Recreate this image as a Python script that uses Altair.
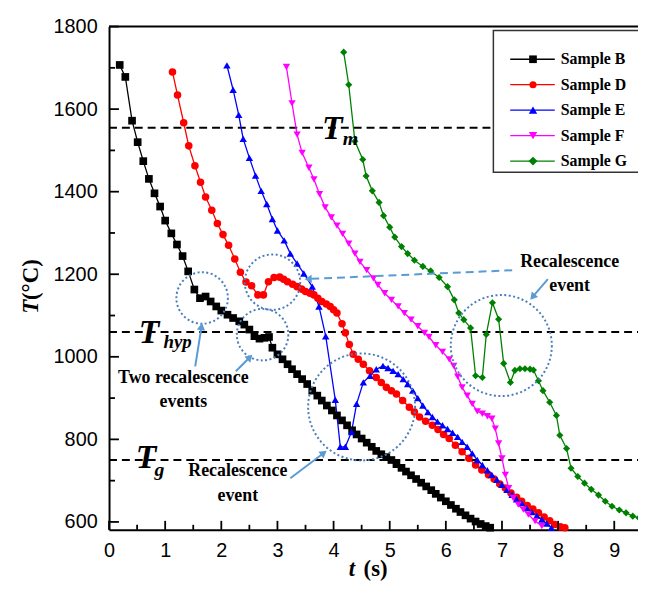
import math
import pandas as pd
import altair as alt

# ---------------- data ----------------
samples = ["Sample B", "Sample D", "Sample E", "Sample F", "Sample G"]
colors = ["#000000", "#ff0000", "#0000ff", "#ff00ff", "#008000"]
shapes = ["square", "circle", "triangle-up", "triangle-down", "diamond"]
sizes = [60, 52, 72, 72, 80]

B_t = [0.19, 0.29, 0.41, 0.51, 0.61, 0.71, 0.81, 0.91, 1.00, 1.11, 1.21, 1.31, 1.41, 1.52,
       1.62, 1.72, 1.81, 1.91, 2.00, 2.11, 2.21, 2.32, 2.41, 2.50, 2.59, 2.68, 2.77, 2.85,
       2.91, 3.00, 3.09, 3.18, 3.26, 3.35, 3.44, 3.53, 3.62, 3.71, 3.79, 3.88, 3.97, 4.06,
       4.15, 4.24, 4.33, 4.41, 4.50, 4.59, 4.68, 4.76, 4.85, 4.94, 5.03, 5.12, 5.21, 5.29,
       5.38, 5.47, 5.56, 5.65, 5.74, 5.82, 5.91, 6.00, 6.09, 6.18, 6.26, 6.35, 6.44, 6.53,
       6.62, 6.71, 6.79]
B_T = [1707, 1678, 1572, 1520, 1474, 1431, 1396, 1364, 1330, 1299, 1272, 1244, 1207, 1163,
       1142, 1146, 1134, 1122, 1112, 1102, 1094, 1086, 1078, 1066, 1050, 1044, 1046, 1048,
       1022, 1006, 994, 982, 970, 958, 946, 934, 918, 906, 894, 882, 870, 858,
       846, 834, 822, 812, 802, 792, 782, 772, 764, 757, 750, 740, 731, 722,
       713, 704, 695, 686, 677, 668, 659, 650, 641, 632, 624, 616, 608, 601,
       595, 590, 586]

D_t = [1.13, 1.22, 1.33, 1.42, 1.53, 1.63, 1.72, 1.83, 1.93, 2.03, 2.13, 2.24, 2.34, 2.44,
       2.54, 2.65, 2.75, 2.84, 2.94, 3.04, 3.11, 3.18, 3.27, 3.35, 3.43, 3.50, 3.58, 3.65,
       3.72, 3.79, 3.87, 3.94, 4.00, 4.06, 4.15, 4.21, 4.28, 4.35, 4.44, 4.53, 4.64, 4.76,
       4.85, 4.94, 5.03, 5.12, 5.23, 5.35, 5.44, 5.53, 5.64, 5.76, 5.86, 5.96, 6.06, 6.17,
       6.29, 6.41, 6.53, 6.64, 6.76, 6.86, 6.96, 7.06, 7.16, 7.26, 7.35, 7.45, 7.55, 7.65,
       7.75, 7.85, 7.94, 8.04, 8.12]
D_T = [1690, 1634, 1567, 1511, 1463, 1423, 1387, 1355, 1323, 1296, 1270, 1237, 1205, 1181,
       1172, 1150, 1150, 1182, 1192, 1193, 1188, 1182, 1176, 1170, 1164, 1158, 1154, 1150,
       1142, 1134, 1128, 1122, 1114, 1106, 1080, 1058, 1030, 1006, 994, 982, 966, 950,
       938, 926, 918, 910, 894, 878, 866, 854, 844, 834, 824, 812, 802, 786,
       770, 754, 738, 726, 714, 704, 692, 682, 670, 660, 650, 640, 631, 622,
       612, 603, 594, 588, 586]

E_t = [2.10, 2.21, 2.31, 2.39, 2.50, 2.61, 2.71, 2.81, 2.91, 3.00, 3.12, 3.23, 3.35, 3.47,
       3.62, 3.74, 3.86, 4.03, 4.12, 4.21, 4.32, 4.41, 4.53, 4.65, 4.76, 4.88, 4.97, 5.06,
       5.15, 5.24, 5.32, 5.41, 5.50, 5.59, 5.68, 5.76, 5.85, 5.94, 6.03, 6.12, 6.21, 6.29,
       6.38, 6.47, 6.56, 6.65, 6.74, 6.82, 6.91, 7.00, 7.09, 7.18, 7.26, 7.35, 7.44, 7.53,
       7.62, 7.71, 7.80, 7.88]
E_T = [1706, 1647, 1586, 1528, 1482, 1439, 1402, 1370, 1334, 1306, 1282, 1250, 1226, 1202,
       1170, 1122, 1050, 896, 782, 782, 818, 886, 938, 954, 970, 978, 973, 966,
       958, 946, 934, 918, 900, 882, 866, 854, 843, 834, 825, 816, 806, 794,
       782, 766, 750, 738, 725, 714, 702, 690, 678, 666, 655, 646, 634, 624,
       615, 606, 596, 586]

F_t = [3.16, 3.26, 3.35, 3.44, 3.56, 3.65, 3.75, 3.85, 3.96, 4.06, 4.16, 4.27, 4.38, 4.47,
       4.59, 4.71, 4.79, 4.91, 5.03, 5.15, 5.26, 5.38, 5.50, 5.62, 5.70, 5.82, 5.94, 6.06,
       6.14, 6.21, 6.29, 6.38, 6.47, 6.56, 6.65, 6.74, 6.82, 6.88, 6.94, 7.00, 7.06, 7.12,
       7.20, 7.29, 7.38, 7.47, 7.59, 7.71]
F_T = [1702, 1614, 1538, 1494, 1458, 1430, 1394, 1362, 1338, 1318, 1298, 1274, 1250, 1230,
       1210, 1190, 1174, 1154, 1138, 1122, 1106, 1090, 1074, 1058, 1048, 1028, 1012, 994,
       978, 952, 926, 906, 886, 868, 862, 856, 850, 826, 790, 754, 714, 682,
       658, 642, 630, 618, 602, 590]

G_t = [4.18, 4.27, 4.38, 4.52, 4.58, 4.69, 4.81, 4.89, 5.00, 5.09, 5.21, 5.32, 5.44, 5.59,
       5.73, 5.88, 6.03, 6.15, 6.23, 6.32, 6.44, 6.53, 6.65, 6.72, 6.83, 6.94, 7.03, 7.15,
       7.23, 7.32, 7.41, 7.50, 7.56, 7.65, 7.73, 7.85, 7.97, 8.03, 8.15, 8.23, 8.35, 8.47,
       8.59, 8.72, 8.84, 8.96, 9.09, 9.21, 9.33, 9.44]
G_T = [1738, 1659, 1522, 1478, 1438, 1402, 1374, 1342, 1314, 1290, 1267, 1250, 1234, 1219,
       1208, 1192, 1170, 1138, 1106, 1090, 1070, 954, 950, 1054, 1131, 1091, 984, 938,
       967, 971, 971, 970, 968, 942, 918, 890, 858, 810, 778, 730, 710, 694,
       679, 665, 650, 638, 629, 622, 614, 610]

ref_T = [1555, 1060, 750]          # T_m, T_hyp, T_g
x_major = [0, 1, 2, 3, 4, 5, 6, 7, 8, 9]
x_minor = [0.5, 1.5, 2.5, 3.5, 4.5, 5.5, 6.5, 7.5, 8.5]
y_major = [600, 800, 1000, 1200, 1400, 1600, 1800]
y_minor = [700, 900, 1100, 1300, 1500, 1700]

# ---------------- build ----------------
frames = []
for name, ts, Ts in zip(samples, [B_t, D_t, E_t, F_t, G_t], [B_T, D_T, E_T, F_T, G_T]):
    frames.append(pd.DataFrame({"t": ts, "T": Ts, "sample": name, "order": list(range(len(ts)))}))
df = pd.concat(frames, ignore_index=True)

W, H = 534, 508
SERIF = "Liberation Serif"
SANS = "Liberation Sans"
AC = "#5b9bd5"      # arrow colour
CC = "#4a7ebb"      # dotted circle colour

xscale = alt.Scale(domain=[0, W / 56.67], nice=False, zero=False)
yscale = alt.Scale(domain=[581, 1800], nice=False, zero=False)
xaxis = alt.Axis(values=x_major, ticks=False, domain=True, domainWidth=2, domainColor="black",
                 grid=False, labelFont=SANS, labelFontSize=20, labelColor="black",
                 labelPadding=11, title=None, labelFlush=False, format="d")
yaxis = alt.Axis(values=y_major, ticks=False, domain=True, domainWidth=2, domainColor="black",
                 grid=False, labelFont=SANS, labelFontSize=20, labelColor="black",
                 labelPadding=12, title=None, format="d")

X = alt.X("t:Q", scale=xscale, axis=xaxis)
Y = alt.Y("T:Q", scale=yscale, axis=yaxis)
color = alt.Color("sample:N", scale=alt.Scale(domain=samples, range=colors), legend=None)
shape = alt.Shape("sample:N", scale=alt.Scale(domain=samples, range=shapes), legend=None)
size = alt.Size("sample:O", scale=alt.Scale(domain=samples, range=sizes), legend=None)

dummy = pd.DataFrame({"a": [0]})
layers = []

# reference dashed lines
layers.append(alt.Chart(pd.DataFrame({"T": ref_T})).mark_rule(
    color="black", strokeWidth=2, strokeDash=[8, 5]).encode(
    y=Y, x=alt.value(0), x2=alt.value(W)))

# series
layers.append(alt.Chart(df).mark_line(strokeWidth=1.3).encode(
    x=X, y=Y, color=color, order="order:Q"))
layers.append(alt.Chart(df).mark_point(filled=True, opacity=1).encode(
    x=X, y=Y, color=color, shape=shape, size=size))

# ticks (inward)
layers.append(alt.Chart(pd.DataFrame({"t": x_major})).mark_rule(color="black", strokeWidth=1.8).encode(
    x=X, y=alt.value(H), y2=alt.value(H - 9)))
layers.append(alt.Chart(pd.DataFrame({"t": x_minor})).mark_rule(color="black", strokeWidth=1.8).encode(
    x=X, y=alt.value(H), y2=alt.value(H - 5)))
layers.append(alt.Chart(pd.DataFrame({"T": y_major})).mark_rule(color="black", strokeWidth=1.8).encode(
    y=Y, x=alt.value(0), x2=alt.value(10)))
layers.append(alt.Chart(pd.DataFrame({"T": y_minor})).mark_rule(color="black", strokeWidth=1.8).encode(
    y=Y, x=alt.value(0), x2=alt.value(6)))

# top frame
layers.append(alt.Chart(dummy).mark_rule(color="black", strokeWidth=2).encode(
    x=alt.value(0), x2=alt.value(W), y=alt.value(0)))


def text(s, x, y, size=18, style="normal", align="center", baseline="middle", angle=0):
    kw = dict(text=s, font=SERIF, fontSize=size, fontWeight="bold", fontStyle=style,
              align=align, baseline=baseline, color="black")
    if angle:
        kw["angle"] = angle
    return alt.Chart(dummy).mark_text(**kw).encode(x=alt.value(x), y=alt.value(y))


def circle(cx, cy, d):
    return alt.Chart(dummy).mark_point(shape="circle", filled=False, stroke=CC, strokeWidth=2,
                                       strokeDash=[2, 2.5], opacity=1).encode(
        x=alt.value(cx), y=alt.value(cy), size=alt.value(d * d))


def arrow(x1, y1, x2, y2, dashed=False):
    dx, dy = x2 - x1, y2 - y1
    L = math.hypot(dx, dy)
    ux, uy = dx / L, dy / L
    cx, cy = x2 - 4 * ux, y2 - 4 * uy
    ang = math.degrees(math.atan2(ux, -uy)) % 360
    kw = dict(color=AC, strokeWidth=2)
    if dashed:
        kw["strokeDash"] = [8, 5]
    r = alt.Chart(dummy).mark_rule(**kw).encode(
        x=alt.value(x1), y=alt.value(y1), x2=alt.value(cx), y2=alt.value(cy))
    h = alt.Chart(dummy).mark_point(shape="triangle-up", filled=True, color=AC, opacity=1,
                                    size=70, angle=ang).encode(x=alt.value(cx), y=alt.value(cy))
    return [r, h]


# dotted circles
layers += [circle(94, 274, 52), circle(155, 311, 52), circle(165, 258, 56),
           circle(255, 384, 108), circle(396, 322, 102)]

# arrows
layers += arrow(87, 343, 94, 299)
layers += arrow(128, 348, 145, 331)
layers += arrow(183, 456, 220, 428)
layers += arrow(443, 255, 425, 276)
layers += arrow(407, 246, 197, 255, dashed=True)

# annotation texts
layers += [text("Two recalescence", 75, 355), text("events", 75, 379),
           text("Recalescence", 130, 449), text("event", 130, 474),
           text("Recalescence", 465, 238), text("event", 465, 262)]

# T labels
layers += [text("T", 215, 113, size=34, style="italic", align="left", baseline="alphabetic"),
           text("m", 236, 120, size=20, style="italic", align="left", baseline="alphabetic"),
           text("T", 30, 319, size=34, style="italic", align="left", baseline="alphabetic"),
           text("hyp", 55, 324, size=19, style="italic", align="left", baseline="alphabetic"),
           text("T", 27, 446, size=34, style="italic", align="left", baseline="alphabetic"),
           text("g", 46, 454, size=20, style="italic", align="left", baseline="alphabetic")]

# axis titles
layers += [text("T", -79, 290, size=23, style="italic", align="left", angle=270),
           text("(°C)", -79, 276, size=23, align="left", angle=270),
           text("t", 242, 555, size=23, style="italic", align="left", baseline="alphabetic"),
           text("(s)", 257, 555, size=23, align="left", baseline="alphabetic")]

# legend
layers.append(alt.Chart(dummy).mark_rect(fill="white", stroke="#333333", strokeWidth=1.5).encode(
    x=alt.value(388), x2=alt.value(W + 10), y=alt.value(4), y2=alt.value(147)))
for i, (name, c, s, sz) in enumerate(zip(samples, colors, shapes, sizes)):
    yy = 33 + 25.7 * i
    layers.append(alt.Chart(dummy).mark_rule(color=c, strokeWidth=1.3).encode(
        x=alt.value(405), x2=alt.value(450), y=alt.value(yy)))
    layers.append(alt.Chart(dummy).mark_point(shape=s, filled=True, color=c, opacity=1, size=sz).encode(
        x=alt.value(428), y=alt.value(yy)))
    layers.append(text(name, 456, yy, size=16, align="left"))

chart = alt.layer(*layers).properties(
    width=W, height=H,
    autosize=alt.AutoSizeParams(type="none"),
    padding={"left": 102, "top": 16, "right": 0, "bottom": 52},
).configure_view(stroke=None)

chart.save("out.html", embed_options={"renderer": "svg", "actions": False})
